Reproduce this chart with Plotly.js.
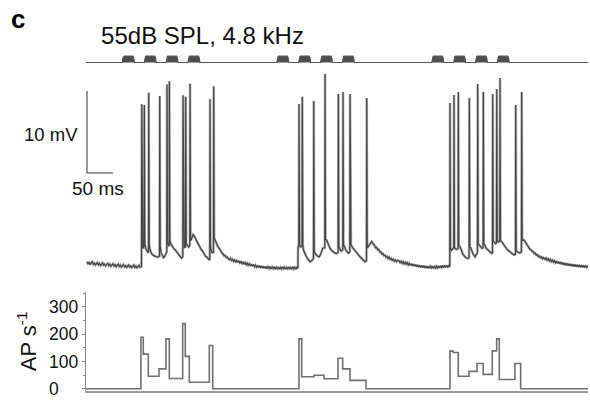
<!DOCTYPE html>
<html>
<head>
<meta charset="utf-8">
<script src="https://cdn.plot.ly/plotly-3.0.1.min.js"></script>
<style>html,body{margin:0;padding:0;background:#fff;}#chart{width:590px;height:400px;}</style>
</head>
<body>
<div id="chart"></div>
<script>
// ---- Data (time in ms) ----
const stimLabel = "55dB SPL, 4.8 kHz";
const stimOnsets = [68, 110, 152, 194, 365, 407, 449, 491, 663, 705, 747, 789];
const stimDuration = 23;
const traceEnd = 963.5;

// membrane potential samples [ms, mV]
const vmSamples = [
[0,-59.6],[2,-59.85],[4,-59.7],[6,-59.95],[8,-59.75],[10,-59.6],[12,-59.9],[14,-59.78],[16,-60.0],[18,-59.8],[20,-59.7],[22,-59.98],[24,-59.82],[26,-60.05],[28,-59.85],[30,-59.75],[32,-60.02],[34,-59.9],[36,-60.1],[38,-59.88],[40,-59.8],[42,-60.08],[44,-59.92],[46,-60.15],[48,-59.95],[50,-59.85],[52,-60.12],[54,-59.98],[56,-60.2],[58,-60.0],[60,-59.9],[62,-60.18],[64,-60.02],[66,-60.25],[68,-60.05],[70,-59.95],[72,-60.22],[74,-60.08],[76,-60.3],[78,-60.1],[80,-60.0],[82,-60.25],[84,-60.12],[86,-60.32],[88,-60.1],[90,-60.02],[92,-60.3],[94,-60.15],[96,-60.35],[98,-60.12],[100,-60.05],[102,-60.3],[104.8,-60.18],
[105.3,-40.4],[106.2,-57.6],[107.5,-58.0],[109.8,-57.7],
[110.3,-40.5],[111.2,-57.4],[113,-58.0],[115,-58.3],[117,-58.45],[118.3,-58.4],
[118.7,-39.0],[119.6,-57.5],[121,-58.1],[124,-58.6],[127,-58.8],[130,-58.95],[133,-59.0],[136,-59.05],[139.4,-58.9],
[139.9,-39.4],[140.8,-57.7],[142.5,-58.5],[145,-59.0],[147,-59.1],[149,-59.0],[151,-58.8],[153.4,-58.4],
[153.9,-38.0],[154.8,-57.2],[156.5,-57.6],[158.0,-57.7],
[158.4,-37.6],[159.3,-57.0],[161,-57.4],[164,-57.8],[167,-58.0],[170,-58.2],[173,-58.5],[176,-58.7],[179,-58.95],[182,-59.15],[184.2,-59.0],
[184.7,-39.3],[185.6,-57.6],[187,-57.9],[189.4,-57.8],
[189.9,-39.5],[190.8,-57.4],[193,-57.6],[195.5,-57.8],[197.7,-57.6],
[198.2,-37.9],[199.1,-57.0],[200.5,-56.9],[202,-56.5],[204,-56.3],[206,-56.45],[208,-56.7],[210,-56.95],[212,-57.25],[214,-57.4],[216,-57.75],[218,-57.85],[220,-58.15],[222,-58.25],[224,-58.55],[226,-58.65],[228,-58.95],[230,-59.0],[232,-59.25],[234,-59.3],[236.1,-59.4],
[236.6,-39.8],[237.5,-57.8],[239,-58.3],[241,-58.5],[243.2,-58.45],
[243.7,-38.2],[244.6,-56.7],[246,-56.9],[248,-57.25],[250,-57.4],[252,-57.8],[254,-57.95],[256,-58.25],[258,-58.35],[260,-58.6],[262,-58.65],[264,-58.9],[266,-58.85],[268,-59.1],[270,-59.05],[272,-59.25],[274,-59.35],[276,-59.2],[278,-59.45],[280,-59.3],[282,-59.55],[284,-59.4],[286,-59.6],[288,-59.45],[290,-59.7],[292,-59.5],[294,-59.75],[296,-59.6],[298,-59.8],[300,-59.62],[302,-59.9],[304,-59.72],[306,-59.95],[308,-59.78],[310,-60.02],[312,-59.85],[314,-60.1],[316,-59.9],[318,-60.15],[320,-59.95],[322,-60.2],[324,-60.02],[326,-60.25],[328,-60.05],[330,-60.3],[332,-60.1],[334,-60.35],[336,-60.12],[338,-60.38],[340,-60.15],[342,-60.4],[344,-60.2],[346,-60.45],[348,-60.22],[350,-60.42],[352,-60.2],[354,-60.48],[356,-60.25],[358,-60.45],[360,-60.22],[362,-60.5],[364,-60.28],[366,-60.46],[368,-60.24],[370,-60.5],[372,-60.3],[374,-60.48],[376,-60.22],[378,-60.45],[380,-60.28],[382,-60.52],[384,-60.3],[386,-60.46],[388,-60.25],[390,-60.5],[392,-60.3],[394,-60.45],[396,-60.22],[398,-60.48],[400,-60.3],[402,-60.45],[404,-60.28],[405.6,-60.4],
[405.9,-57.8],[407.3,-57.6],
[407.8,-40.37],[408.7,-57.5],[410.5,-57.8],[413.6,-57.7],
[414.1,-39.5],[415,-57.6],[416.5,-58.2],[419,-58.6],[422,-59.0],[425,-59.3],[428.8,-59.6],[432,-59.5],[435.6,-59.2],
[436.1,-40.0],[437,-58.3],[438.5,-58.6],[441,-58.8],[444,-58.95],[446.7,-59.0],[450,-58.6],[453.3,-57.95],[457.3,-57.9],
[457.8,-36.71],[458.7,-56.8],[461,-57.0],[464,-57.5],[467.3,-57.95],[470,-58.2],[473,-58.4],[476.9,-58.55],[479,-58.6],[482.9,-58.5],
[483.4,-39.15],[484.3,-57.7],[486.6,-58.1],[489,-58.3],[491.9,-58.1],
[492.4,-38.9],[493.3,-57.5],[494.8,-57.75],[498,-58.2],[502.5,-58.55],[505.4,-58.4],
[505.9,-39.15],[506.8,-57.4],[507.7,-57.55],[511,-57.9],[515.4,-58.2],[520,-58.6],[525,-59.0],[530,-59.3],[534.6,-59.6],[537.5,-59.5],
[538.0,-39.63],[538.9,-57.9],[541,-57.75],[544,-57.4],[547.5,-57.15],[550,-57.4],[553,-57.6],[555,-57.9],[557,-57.85],[559,-58.15],[561,-58.1],[563,-58.4],[565,-58.4],[567,-58.65],[569,-58.6],[571,-58.85],[573,-58.8],[575,-59.05],[577,-58.95],[579,-59.2],[581,-59.05],[583,-59.3],[585,-59.2],[587,-59.42],[589,-59.3],[591,-59.52],[593,-59.38],[595,-59.6],[597,-59.45],[600,-59.5],[602,-59.7],[604,-59.55],[606,-59.78],[608,-59.6],[610,-59.85],[612,-59.68],[614,-59.9],[616,-59.72],[618,-59.98],[620,-59.8],[622,-60.05],[624,-59.85],[626,-60.1],[628,-59.9],[630,-60.15],[632,-59.95],[634,-60.2],[636,-60.0],[638,-60.25],[640,-60.05],[642,-60.3],[644,-60.08],[646,-60.32],[648,-60.1],[650,-60.36],[652,-60.12],[654,-60.38],[656,-60.15],[658,-60.4],[660,-60.18],[662,-60.36],[664,-60.14],[666,-60.4],[668,-60.2],[670,-60.38],[672,-60.15],[674,-60.35],[676,-60.12],[678,-60.36],[680,-60.1],[682,-60.3],[684,-60.08],[686,-60.32],[688,-60.05],[690,-60.28],[692,-60.06],[694,-60.3],[696,-60.08],[697.7,-60.2],
[698.1,-40.24],[699,-58.0],[701,-58.2],[703,-58.1],[705.3,-57.9],
[705.8,-39.27],[706.7,-57.9],[708.5,-58.0],[711,-58.1],[713.6,-58.0],
[714.1,-38.9],[715,-57.6],[717.5,-57.8],[720,-58.3],[723,-58.7],[727.1,-59.0],[730,-59.15],[733.4,-59.2],[734.8,-59.1],
[735.3,-39.63],[736.2,-57.8],[738.4,-57.95],[742,-58.6],[746.1,-59.0],[749.4,-58.7],[750.9,-58.5],
[751.4,-37.93],[752.3,-57.4],[754.4,-57.56],[757,-57.8],[759,-57.95],[761.7,-57.9],
[762.2,-38.9],[763.1,-57.4],[765.4,-57.6],[768,-58.0],[771.7,-58.2],[775,-58.45],[778.3,-58.6],[779.8,-58.5],
[780.3,-39.15],[781.2,-57.1],[783.3,-57.2],[785.5,-57.4],[787.5,-57.3],
[788.0,-38.54],[788.9,-57.0],[791,-57.2],[793.8,-57.1],
[794.3,-37.2],[795.2,-57.0],[797.5,-57.16],[800,-57.4],[803.8,-57.77],[808,-58.1],[813.4,-58.38],[817,-58.6],[821.1,-58.78],[824.0,-58.7],
[824.5,-40.49],[825.4,-58.2],[827.5,-58.4],[830,-58.5],[832,-58.55],[835.5,-58.4],
[836.0,-38.9],[836.9,-57.0],[840.4,-56.95],[844,-57.3],[846,-57.55],[848.6,-57.77],[850,-57.85],[852,-58.1],[854,-58.15],[856,-58.35],[858,-58.35],[860,-58.6],[862,-58.55],[864,-58.8],[866,-58.75],[868,-58.98],[870,-58.9],[872,-59.1],[874,-59.02],[876,-59.25],[878,-59.1],[881,-59.3],[883,-59.15],[885,-59.4],[887,-59.25],[889,-59.5],[891,-59.32],[893,-59.58],[895,-59.4],[897,-59.65],[899,-59.48],[901,-59.72],[903,-59.52],[905,-59.8],[907,-59.6],[909,-59.85],[911,-59.65],[913,-59.92],[915,-59.7],[917,-59.98],[919,-59.76],[921,-60.02],[923,-59.8],[925,-60.06],[927,-59.85],[929,-60.1],[931,-59.88],[933,-60.14],[935,-59.92],[937,-60.18],[939,-59.95],[941,-60.2],[943,-59.98],[945,-60.24],[947,-60.0],[949,-60.26],[951,-60.02],[953,-60.28],[955,-60.05],[957,-60.3],[959,-60.06],[961,-60.28],[963.4,-60.1]
];

// instantaneous firing rate (AP/s), step edges in ms
const rateEdges = [-1.9, 103.7, 108.3, 117.9, 138.5, 151.9, 158.3, 184, 189, 196.7, 235.2, 241.7, 407.7, 412.9, 436.5, 455.8, 482.7, 491.7, 505.8, 536.5, 698, 704.4, 714, 734.6, 750, 762, 779.4, 787.9, 792.9, 823, 834, 963.5];
const rateValues = [0, 189, 127, 46, 73, 183, 38, 239, 119, 24, 159, 0, 183, 44, 50, 37, 112, 73, 31, 0, 138, 133, 46, 64, 93, 53, 139, 183, 34, 93, 0, 0];

const rateTickVals = [0, 100, 200, 300];
const rateTickText = ["0\u00a0\u00a0\u00a0\u00a0", "100", "200", "300"];

const scaleBarMV = 10;
const scaleBarMS = 50;

// ---- build traces ----
const vmT = vmSamples.map(p => p[0]);
const vmV = vmSamples.map(p => p[1]);

const stimX = [-1.9], stimY = [0];
stimOnsets.forEach(o => {
  const d = stimDuration;
  stimX.push(o, o + 1.2, o + 2.6, o + 4.2, o + d - 4.2, o + d - 2.6, o + d - 1.2, o + d);
  stimY.push(0, 0.75, 0.97, 1, 1, 0.97, 0.75, 0);
});
stimX.push(traceEnd); stimY.push(0);

const barOriginT = 0, barOriginV = -48.78;
const FONT = "Liberation Sans, Arial, Helvetica, sans-serif";

const traces = [
  {x: stimX, y: stimY, xaxis: 'x', yaxis: 'y2', type: 'scatter', mode: 'lines',
   fill: 'tozeroy', fillcolor: '#4d4d4d', line: {color: '#555', width: 1.2}, hoverinfo: 'skip'},
  {x: vmT, y: vmV, xaxis: 'x', yaxis: 'y', type: 'scatter', mode: 'lines',
   line: {color: '#b4b4b4', width: 2.6}, hoverinfo: 'skip'},
  {x: vmT, y: vmV, xaxis: 'x', yaxis: 'y', type: 'scatter', mode: 'lines',
   line: {color: '#444', width: 1.2}, hoverinfo: 'skip'},
  {x: [barOriginT, barOriginT, barOriginT + scaleBarMS],
   y: [barOriginV + scaleBarMV, barOriginV, barOriginV],
   xaxis: 'x', yaxis: 'y', type: 'scatter', mode: 'lines',
   line: {color: '#333', width: 1}, hoverinfo: 'skip'},
  {x: rateEdges, y: rateValues, xaxis: 'x', yaxis: 'y3', type: 'scatter', mode: 'lines',
   line: {color: '#707070', width: 1.6, shape: 'hv'}, hoverinfo: 'skip'}
];

const layout = {
  width: 590, height: 400,
  margin: {l: 0, r: 0, t: 0, b: 0},
  paper_bgcolor: '#fff', plot_bgcolor: 'rgba(0,0,0,0)',
  showlegend: false,
  font: {family: FONT, color: '#000'},
  title: {text: stimLabel, x: 202.5 / 590, xanchor: 'center', xref: 'container',
          y: 1 - 36 / 400, yanchor: 'middle', yref: 'container',
          font: {family: FONT, size: 24, color: '#111'}},
  xaxis: {domain: [86 / 590, 588 / 590], range: [-1.92, 963.5], anchor: 'y3',
          showgrid: false, zeroline: false, showticklabels: false, ticks: '',
          showline: true, linecolor: '#9a9a9a', linewidth: 1.5},
  yaxis: {domain: [0.2875, 0.83], range: [-62.44, -35.98], visible: false, anchor: 'x',
          showgrid: false, zeroline: false},
  yaxis2: {domain: [0.8356, 0.8632], range: [-0.5, 1.2], visible: false, anchor: 'x',
           showgrid: false, zeroline: false},
  yaxis3: {domain: [0.0225, 0.27075], range: [-8, 356], anchor: 'x',
           showgrid: false, zeroline: false,
           showline: true, linecolor: '#8a8a8a', linewidth: 1.2,
           tickmode: 'array', tickvals: rateTickVals, ticktext: rateTickText,
           ticks: 'outside', ticklen: 3, tickcolor: '#8a8a8a', tickwidth: 1,
           minor: {dtick: 50, ticks: 'outside', ticklen: 2, tickcolor: '#8a8a8a'},
           tickfont: {family: FONT, size: 17.5, color: '#111'},
           title: {text: 'AP s<sup>-1</sup>', font: {family: FONT, size: 22, color: '#111'}, standoff: 6}},
  annotations: [
    {text: '<b>c</b>', xref: 'paper', yref: 'paper', x: 18 / 590, y: 1 - 19 / 400,
     xanchor: 'center', yanchor: 'middle', showarrow: false, font: {family: FONT, size: 26, color: '#000'}},
    {text: '10 mV', xref: 'paper', yref: 'paper', x: 51 / 590, y: 1 - 134 / 400,
     xanchor: 'center', yanchor: 'middle', showarrow: false, font: {family: FONT, size: 18.5, color: '#111'}},
    {text: '50 ms', xref: 'paper', yref: 'paper', x: 97.5 / 590, y: 1 - 189 / 400,
     xanchor: 'center', yanchor: 'middle', showarrow: false, font: {family: FONT, size: 19, color: '#111'}}
  ]
};

Plotly.newPlot('chart', traces, layout, {staticPlot: true, displayModeBar: false});
</script>
</body>
</html>
